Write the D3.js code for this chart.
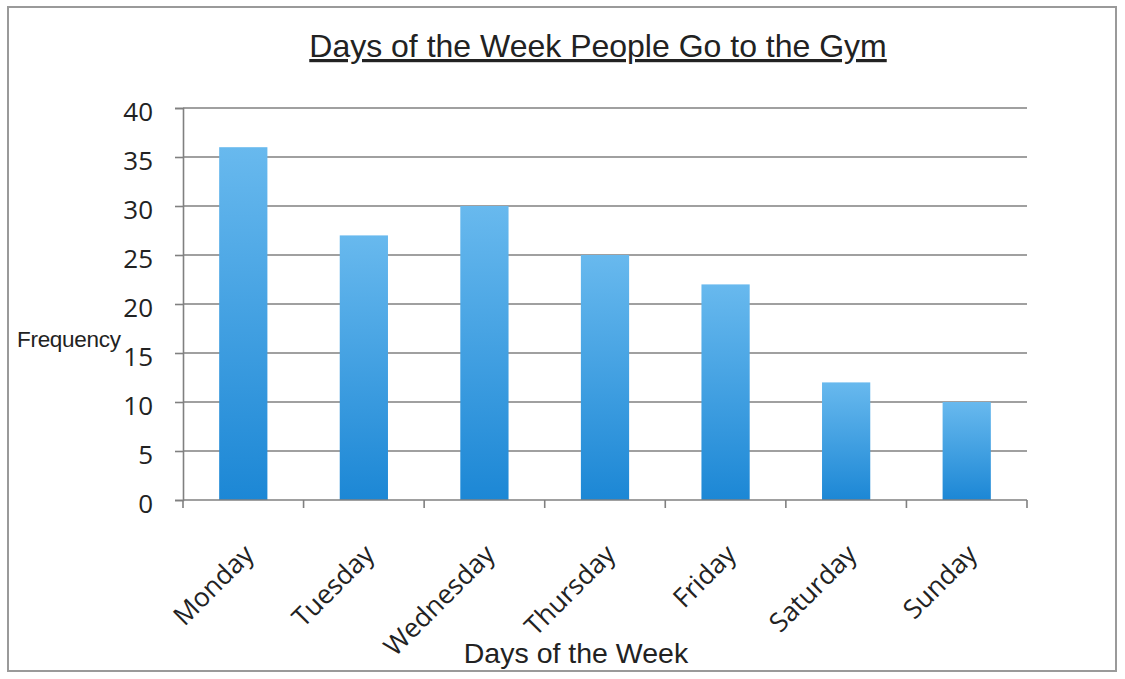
<!DOCTYPE html>
<html>
<head>
<meta charset="utf-8">
<script src="https://cdn.jsdelivr.net/npm/d3@7"></script>
<style>
  body { margin: 0; background: #fff; }
  text { fill: #222; }
</style>
</head>
<body>
<svg id="chart" width="1125" height="679"></svg>
<script>
// data
let days = ["Monday", "Tuesday", "Wednesday", "Thursday", "Friday", "Saturday", "Sunday"];
let frequency = [36, 27, 30, 25, 22, 12, 10];
let yTicks = [0, 5, 10, 15, 20, 25, 30, 35, 40];

let margin = {top: 108, left: 183, right: 98, bottom: 179};
let width = 1125 - margin.left - margin.right;
let height = 679 - margin.top - margin.bottom;

let svg = d3.select('#chart');

// outer frame
svg.append('rect')
    .attr('x', 8).attr('y', 7)
    .attr('width', 1108).attr('height', 664)
    .attr('fill', 'none')
    .attr('stroke', '#9a9a9a')
    .attr('stroke-width', 2);

let defs = svg.append('defs');
let grad = defs.append('linearGradient')
    .attr('id', 'barGrad')
    .attr('x1', 0).attr('y1', 0).attr('x2', 0).attr('y2', 1);
grad.append('stop').attr('offset', '0%').attr('stop-color', '#68b9ee');
grad.append('stop').attr('offset', '100%').attr('stop-color', '#1c87d5');

let scaleX = d3.scaleBand()
    .domain(days)
    .range([0, width])
    .paddingInner(0.6)
    .paddingOuter(0.3);
let scaleY = d3.scaleLinear()
    .domain([0, 40])
    .range([height, 0]);

let plot = svg.append('g')
    .attr('transform', 'translate(' + margin.left + ',' + margin.top + ')');

// gridlines
plot.append('g')
    .selectAll('line')
    .data(yTicks.filter(d => d > 0))
    .join('line')
    .attr('x1', 0).attr('x2', width)
    .attr('y1', d => scaleY(d)).attr('y2', d => scaleY(d))
    .attr('stroke', '#808080')
    .attr('stroke-width', 1.6);

// y axis
let yAxis = plot.append('g')
    .call(d3.axisLeft(scaleY).tickValues(yTicks).tickSize(8).tickPadding(22));
yAxis.select('.domain').attr('stroke', '#808080').attr('stroke-width', 1.6);
yAxis.selectAll('.tick line').attr('stroke', '#808080').attr('stroke-width', 1.6);
yAxis.selectAll('.tick text')
    .attr('font-family', '"Open Sans", sans-serif')
    .attr('font-size', 26)
    .attr('dy', '0.48em')
    .attr('fill', '#1e1e1e');

// bars
plot.append('g')
    .selectAll('rect')
    .data(days)
    .join('rect')
    .attr('x', d => scaleX(d))
    .attr('y', (d, i) => scaleY(frequency[i]))
    .attr('width', scaleX.bandwidth())
    .attr('height', (d, i) => height - scaleY(frequency[i]))
    .attr('fill', 'url(#barGrad)');

// x axis line and ticks at category boundaries
let step = width / days.length;
let xg = plot.append('g').attr('transform', 'translate(0,' + height + ')');
xg.append('line')
    .attr('x1', 0).attr('x2', width)
    .attr('stroke', '#808080').attr('stroke-width', 1.6);
xg.selectAll('line.tick')
    .data(d3.range(days.length + 1))
    .join('line')
    .attr('class', 'tick')
    .attr('x1', d => d * step).attr('x2', d => d * step)
    .attr('y1', 0).attr('y2', 8)
    .attr('stroke', '#808080').attr('stroke-width', 1.6);

// rotated category labels
xg.selectAll('text')
    .data(days)
    .join('text')
    .attr('transform', d => 'translate(' + (scaleX(d) + scaleX.bandwidth() / 2 + 12) + ',56) rotate(-45)')
    .attr('text-anchor', 'end')
    .attr('font-family', '"Open Sans", sans-serif')
    .attr('font-size', 26.5)
    .attr('fill', '#1e1e1e')
    .text(d => d);

// title
svg.append('text')
    .attr('x', 598).attr('y', 57)
    .attr('text-anchor', 'middle')
    .attr('font-family', '"Liberation Sans", Arial, sans-serif')
    .attr('font-size', 32)
    .attr('text-decoration', 'underline')
    .text('Days of the Week People Go to the Gym');

// axis titles
svg.append('text')
    .attr('x', 17).attr('y', 347)
    .attr('font-family', '"Liberation Sans", Arial, sans-serif')
    .attr('font-size', 22.5)
    .attr('letter-spacing', -0.3)
    .text('Frequency');

svg.append('text')
    .attr('x', 576).attr('y', 663)
    .attr('text-anchor', 'middle')
    .attr('font-family', '"Liberation Sans", Arial, sans-serif')
    .attr('font-size', 28.5)
    .text('Days of the Week');
</script>
</body>
</html>
